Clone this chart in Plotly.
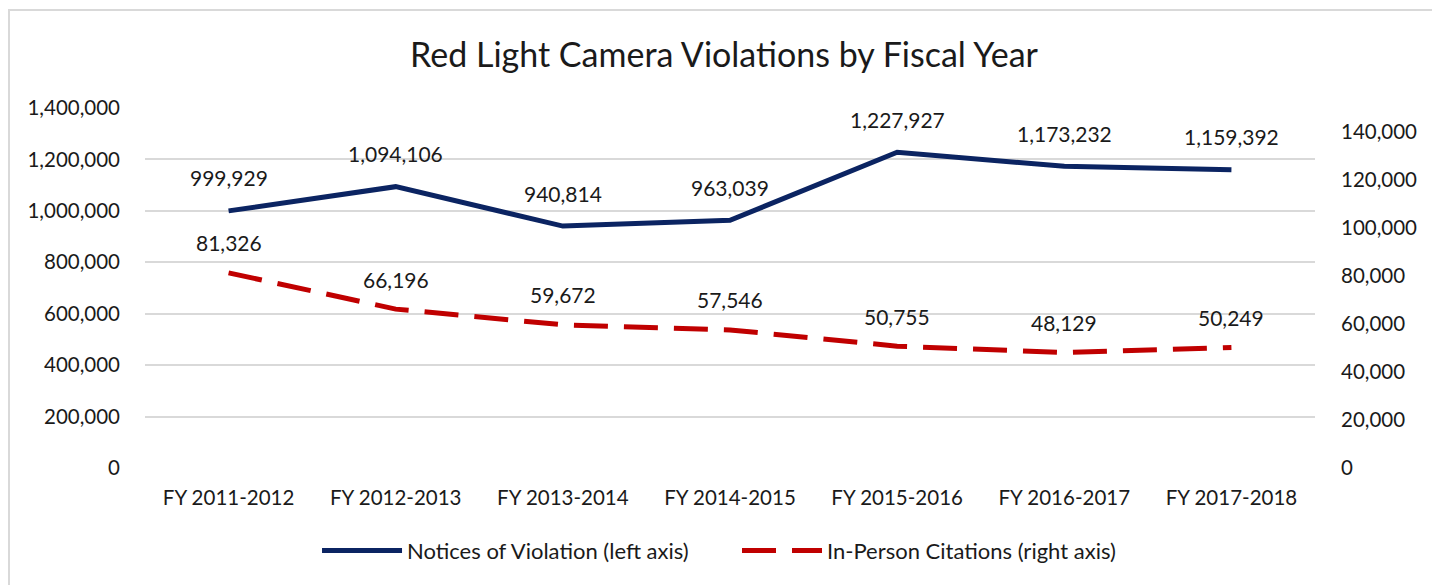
import plotly.graph_objects as go

categories = ["FY 2011-2012", "FY 2012-2013", "FY 2013-2014", "FY 2014-2015",
              "FY 2015-2016", "FY 2016-2017", "FY 2017-2018"]
notices = [999929, 1094106, 940814, 963039, 1227927, 1173232, 1159392]
citations = [81326, 66196, 59672, 57546, 50755, 48129, 50249]

left_ticks = [0, 200000, 400000, 600000, 800000, 1000000, 1200000, 1400000]
right_ticks = [0, 20000, 40000, 60000, 80000, 100000, 120000, 140000]

FONT = "Lato"
BLUE = "#0b2462"
RED = "#c00000"
TXT = "#1a1a1a"

fig = go.Figure()
fig.add_trace(go.Scatter(
    x=categories, y=notices, mode="lines", name="Notices of Violation (left axis)",
    line=dict(color=BLUE, width=5), yaxis="y"))
fig.add_trace(go.Scatter(
    x=categories, y=citations, mode="lines", name="In-Person Citations (right axis)",
    line=dict(color=RED, width=5, dash="34px,16px"), yaxis="y2"))

annotations = []
for c, v in zip(categories, notices):
    annotations.append(dict(x=c, y=v, xref="x", yref="y", text=f"{v:,}",
                            showarrow=False, yshift=33,
                            font=dict(family=FONT, size=21, color=TXT)))
for c, v in zip(categories, citations):
    annotations.append(dict(x=c, y=v, xref="x", yref="y2", text=f"{v:,}",
                            showarrow=False, yshift=30,
                            font=dict(family=FONT, size=21, color=TXT)))

# page has an 8px body margin; figure is sized/margined to compensate
fig.update_layout(
    width=1432, height=577,
    margin=dict(l=137, r=125, t=100, b=117),
    paper_bgcolor="white", plot_bgcolor="white",
    font=dict(family=FONT, color=TXT, size=20),
    title=dict(text="Red Light Camera Violations by Fiscal Year",
               x=0.5, xanchor="center", y=0.918, yanchor="middle",
               font=dict(family=FONT, size=34, color=TXT)),
    xaxis=dict(range=[-0.5, 6.5], showgrid=False, showline=False, zeroline=False,
               ticks="", tickfont=dict(size=20.5), ticklabelstandoff=15),
    yaxis=dict(range=[0, 1400000], tickvals=left_ticks,
               ticktext=[f"{t:,}" for t in left_ticks],
               showgrid=True, gridcolor="#d9d9d9", gridwidth=2, zeroline=False,
               showline=False, ticks="", ticklabelstandoff=24,
               tickfont=dict(size=20.5)),
    yaxis2=dict(range=[0, 150000], tickvals=right_ticks,
                ticktext=[f"{t:,}" for t in right_ticks],
                overlaying="y", side="right", showgrid=False, zeroline=False,
                showline=False, ticks="", ticklabelstandoff=25,
                tickfont=dict(size=20.5)),
    showlegend=True,
    legend=dict(orientation="h", x=0.506, xanchor="center", y=-0.23, yanchor="middle",
                font=dict(size=22), itemwidth=80, entrywidth=325, entrywidthmode="pixels"),
    annotations=annotations,
    shapes=[dict(type="rect", xref="paper", yref="paper",
                 x0=(9 - 145) / 1170, x1=(1433 - 145) / 1170,
                 y0=-0.5, y1=(468 - 10) / 360,
                 line=dict(color="#d9d9d9", width=2), layer="below")],
)

fig.write_html("out.html")
